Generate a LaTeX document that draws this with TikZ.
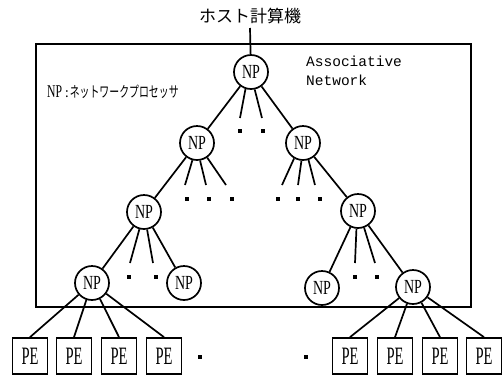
\documentclass[tikz,border=0pt]{standalone}
\usepackage{fontspec}
\setmainfont{Liberation Serif}
\newfontfamily\jp{Noto Sans CJK JP}
\newfontfamily\mono{Liberation Mono}
\newcommand{\nplab}{\scalebox{0.7}[1]{NP}}
\newcommand{\pelab}{\scalebox{0.58}[1]{PE}}
\begin{document}
\begin{tikzpicture}[x=1pt,y=-1pt,
  np/.style={circle,draw,line width=1.7pt,minimum size=34pt,inner sep=0pt,fill=white,font=\fontsize{20}{20}\selectfont},
  pe/.style={rectangle,draw,line width=1.7pt,minimum width=35pt,minimum height=36pt,inner sep=0pt,font=\fontsize{25}{25}\selectfont},
  ln/.style={line width=1.7pt},
  dotsq/.style={fill=black,minimum size=3.5pt,inner sep=0pt,rectangle}]
\useasboundingbox (0,0) rectangle (504,376);
% title
\node[font=\jp\fontsize{17}{17}\selectfont] (host) at (250,16) {ホスト計算機};
% frame
\draw[line width=2.6pt] (36,44) rectangle (471,307);
\node[anchor=west,inner sep=0pt] (legend) at (47,92) {\scalebox{0.65}[1]{\fontsize{18}{18}\selectfont NP}\hspace{3pt}{\jp\fontsize{13}{13}\selectfont :}\hspace{1pt}\scalebox{0.66}[1]{\jp\fontsize{15}{15}\selectfont ネットワークプロセッサ}};
\node[anchor=north west,align=left,font=\mono\fontsize{14.5}{19}\selectfont,inner sep=0pt] (assoc) at (306,56) {Associative\\Network};
% NP nodes
\node[np] (n1) at (251,72) {\nplab};
\node[np] (n2a) at (197,143) {\nplab};
\node[np] (n2b) at (303,143) {\nplab};
\node[np] (n3a) at (144,212) {\nplab};
\node[np] (n3b) at (358,211) {\nplab};
\node[np] (n4a) at (92,283) {\nplab};
\node[np] (n4b) at (184,283) {\nplab};
\node[np] (n4c) at (322,288) {\nplab};
\node[np] (n4d) at (413,287) {\nplab};
% host link
\coordinate (hostb) at (250,28);
\draw[ln] (hostb) -- (n1);
% level 1 children
\coordinate (e1) at (240,118); \coordinate (e2) at (262,118);
\draw[ln] (n1) -- (n2a);
\draw[ln] (n1) -- (n2b);
\draw[ln] (n1.-108) -- (e1);
\draw[ln] (n1.-78) -- (e2);
\node[dotsq] (d1) at (240,131) {}; \node[dotsq] (d2) at (263,131) {};
% level 2 left
\coordinate (f1) at (185,185); \coordinate (f2) at (206,185); \coordinate (f3) at (226,185);
\draw[ln] (n2a) -- (n3a);
\draw[ln] (n2a.-105) -- (f1);
\draw[ln] (n2a.-80) -- (f2);
\draw[ln] (n2a.-55) -- (f3);
\node[dotsq] (d3) at (187,199) {}; \node[dotsq] (d4) at (209,199) {}; \node[dotsq] (d5) at (232,199) {};
% level 2 right
\coordinate (g1) at (282,185); \coordinate (g2) at (298,185); \coordinate (g3) at (315,185);
\draw[ln] (n2b) -- (n3b);
\draw[ln] (n2b.-120) -- (g1);
\draw[ln] (n2b.-95) -- (g2);
\draw[ln] (n2b.-72) -- (g3);
\node[dotsq] (d6) at (278,199) {}; \node[dotsq] (d7) at (298,199) {}; \node[dotsq] (d8) at (320,199) {};
% level 3 left
\coordinate (h1) at (130,263); \coordinate (h2) at (153,263);
\draw[ln] (n3a) -- (n4a);
\draw[ln] (n3a) -- (n4b);
\draw[ln] (n3a.-105) -- (h1);
\draw[ln] (n3a.-80) -- (h2);
\node[dotsq] (d9) at (129,277) {}; \node[dotsq] (d10) at (156,277) {};
% level 3 right
\coordinate (k1) at (355,263); \coordinate (k2) at (375,263);
\draw[ln] (n3b) -- (n4c);
\draw[ln] (n3b) -- (n4d);
\draw[ln] (n3b.-95) -- (k1);
\draw[ln] (n3b.-70) -- (k2);
\node[dotsq] (d11) at (355,277) {}; \node[dotsq] (d12) at (377,277) {};
% PE boxes
\node[pe] (p1) at (30,356) {\pelab};
\node[pe] (p2) at (74,356) {\pelab};
\node[pe] (p3) at (119,356) {\pelab};
\node[pe] (p4) at (164,356) {\pelab};
\node[pe] (p5) at (350,356) {\pelab};
\node[pe] (p6) at (395,356) {\pelab};
\node[pe] (p7) at (440,356) {\pelab};
\node[pe] (p8) at (484,356) {\pelab};
\node[dotsq] (d13) at (200,357) {}; \node[dotsq] (d14) at (306,357) {};
\draw[ln] (n4a) -- (p1.north);
\draw[ln] (n4a) -- (p2.north);
\draw[ln] (n4a) -- (p3.north);
\draw[ln] (n4a) -- (p4.north);
\draw[ln] (n4d) -- (p5.north);
\draw[ln] (n4d) -- (p6.north);
\draw[ln] (n4d) -- (p7.north);
\draw[ln] (n4d) -- (p8.north);
\end{tikzpicture}
\end{document}
